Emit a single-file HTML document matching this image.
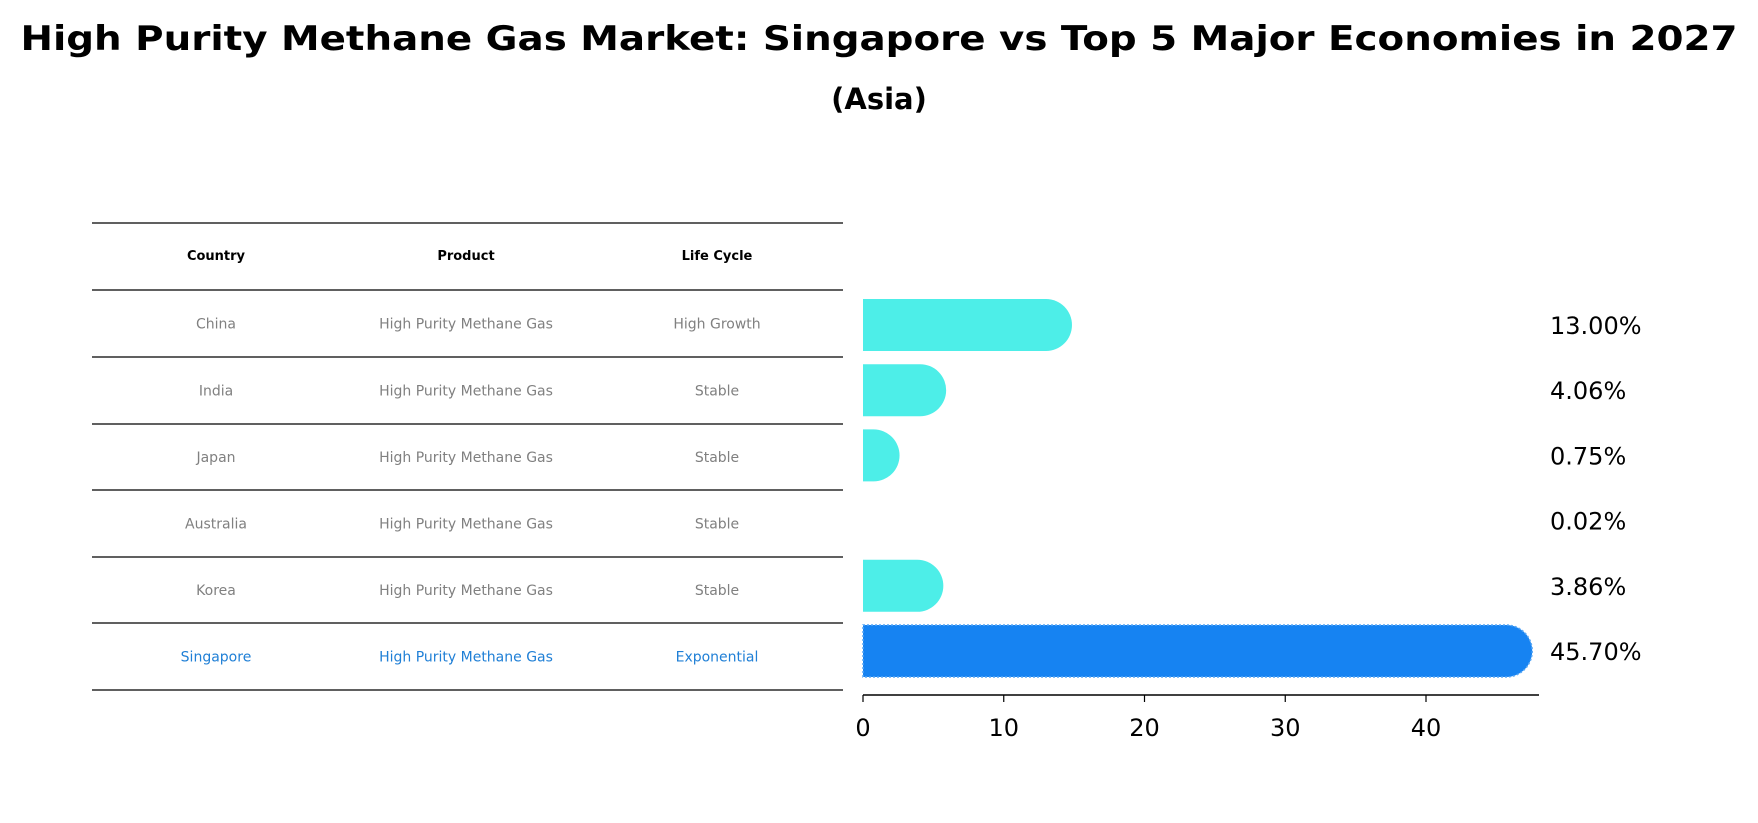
<!DOCTYPE html>
<html><head><meta charset="utf-8"><style>
body{margin:0;background:#fff}
svg{display:block;font-family:"DejaVu Sans","Liberation Sans",sans-serif}
</style></head><body>
<svg id="chart" width="1758" height="823" viewBox="0 0 1758 823">
<text x="879" y="50" text-anchor="middle" font-size="34" font-weight="bold" textLength="1717" lengthAdjust="spacingAndGlyphs">High Purity Methane Gas Market: Singapore vs Top 5 Major Economies in 2027</text>
<text x="879" y="109" text-anchor="middle" font-size="29" font-weight="bold">(Asia)</text>
<g id="table"></g>
<g id="bars"></g>
</svg>
<script>
const countries=["China","India","Japan","Australia","Korea","Singapore"];
const products=["High Purity Methane Gas","High Purity Methane Gas","High Purity Methane Gas","High Purity Methane Gas","High Purity Methane Gas","High Purity Methane Gas"];
const lifeCycles=["High Growth","Stable","Stable","Stable","Stable","Exponential"];
const shares=[13.00,4.06,0.75,0.02,3.86,45.70];
const ticks=[0,10,20,30,40];

const NS="http://www.w3.org/2000/svg";
function mk(tag,attrs,parent,txt){const e=document.createElementNS(NS,tag);for(const k in attrs)e.setAttribute(k,attrs[k]);if(txt!==undefined)e.textContent=txt;parent.appendChild(e);return e;}
const table=document.getElementById('table'), bars=document.getElementById('bars');
const lineYs=[223,290,357,424,490,557,623,690];
const colX=[216,466,717];
for(const y of lineYs){const l=mk('line',{x1:92,x2:843,y1:y,y2:y,stroke:'#000','stroke-width':1.2},table);

}
["Country","Product","Life Cycle"].forEach((h,i)=>{const t=mk('text',{x:colX[i],y:260,'text-anchor':'middle','font-size':13,'font-weight':'bold'},table,h);

});
countries.forEach((c,i)=>{const y=(lineYs[i+1]+lineYs[i+2])/2+5;const col=c==="Singapore"?'#1f7fd6':'#808080';
[c,products[i],lifeCycles[i]].forEach((v,j)=>{const t=mk('text',{x:colX[j],y:y,'text-anchor':'middle','font-size':14,fill:col},table,v);

});});

const x0=863, pxPer=14.075;
const xs=v=>x0+v*pxPer;
const rowY=i=>325+i*65.2;
const r=26;
shares.forEach((v,i)=>{const cy=rowY(i);const xe=xs(v);
 if(v>0.1){const top=cy-r,bot=cy+r;
 const d=`M${x0},${top} L${xe},${top} A${r},${r} 0 0 1 ${xe},${bot} L${x0},${bot} Z`;
 const isS=countries[i]==="Singapore";
 const p=mk('path',{d:d,fill:isS?'#1683f2':'#4deee8',stroke:isS?'#5aa8f5':'none','stroke-dasharray':isS?'2 2':'','stroke-width':isS?1.5:0},bars);
 
 }
 const t=mk('text',{x:1550,y:cy+9,'font-size':24},bars,v.toFixed(2)+'%');
 
 
});
const ax=mk('line',{x1:x0,x2:1539,y1:695,y2:695,stroke:'#000','stroke-width':1.5},bars);


ticks.forEach(v=>{const tl=mk('line',{x1:xs(v),x2:xs(v),y1:695,y2:702,stroke:'#000','stroke-width':1.2},bars);


const t=mk('text',{x:xs(v),y:736,'text-anchor':'middle','font-size':24},bars,String(v));

});
</script>
</body></html>
